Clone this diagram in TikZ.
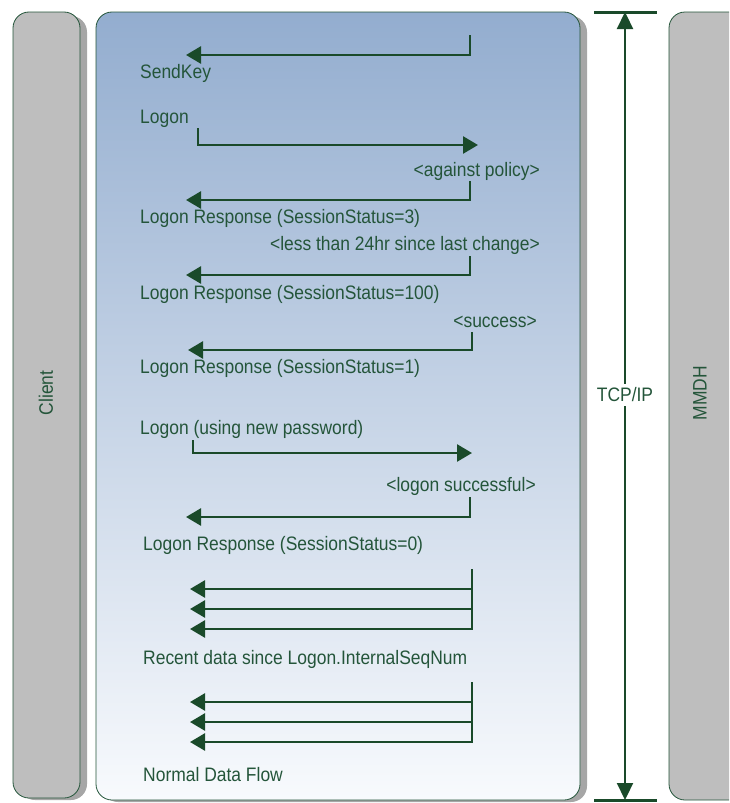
\documentclass[tikz,border=0pt]{standalone}
\usepackage{fontspec}
\setmainfont[FakeStretch=0.895]{Liberation Sans}
\usetikzlibrary{arrows.meta}
\definecolor{dgreen}{HTML}{1A4A2A}
\definecolor{tgreen}{HTML}{24553A}
\definecolor{bargray}{HTML}{BEBEBE}
\definecolor{shadowgray}{HTML}{A6A6A6}
\definecolor{btop}{HTML}{93ADCF}
\definecolor{bbot}{HTML}{F8FAFD}
\tikzset{
  msg/.style={line width=2.6pt, draw=dgreen, -{Triangle[length=15pt,width=17pt]}},
  lbl/.style={font=\fontsize{19.5}{22}\selectfont, text=tgreen, inner sep=0pt},
  bar/.style={fill=bargray, draw=tgreen, line width=0.8pt, rounded corners=16pt},
  shad/.style={fill=shadowgray, rounded corners=16pt},
  tcp/.style={line width=2.2pt, draw=dgreen},
}
\begin{document}
\begin{tikzpicture}[x=1pt,y=-1pt]
\useasboundingbox (0,0) rectangle (729,803);
\clip (0,0) rectangle (729,803);
% client bar
\fill[shad] (19,16) rectangle (87,800);
\draw[bar] (13,12) rectangle (80,798);
\node[lbl, rotate=90] (client) at (46,393) {Client};
% main box
\fill[shad] (102,16) rectangle (587,802);
\shade[top color=btop, bottom color=bbot, rounded corners=16pt] (96,12) rectangle (580,800);
\draw[draw=tgreen, line width=0.8pt, rounded corners=16pt] (96,12) rectangle (580,800);
% MMDH bar
\draw[bar] (669,12) rectangle (745,800);
\node[lbl, rotate=90] (mmdh) at (700,393) {MMDH};
% TCP/IP
\coordinate (ttl) at (594,12); \coordinate (ttr) at (657,12);
\coordinate (tbl) at (594,800); \coordinate (tbr) at (657,800);
\coordinate (tt) at (625,12); \coordinate (tb) at (625,800);
\draw[tcp, line width=3pt] (ttl) -- (ttr);
\draw[tcp, line width=3pt] (tbl) -- (tbr);
\node[lbl, fill=white, inner sep=4pt] (tcpip) at (625,395) {TCP/IP};
\draw[tcp, -{Triangle[length=17pt,width=16pt]}] (tcpip.north) -- (tt);
\draw[tcp, -{Triangle[length=17pt,width=16pt]}] (tcpip.south) -- (tb);
% 1 SendKey
\coordinate (a1s) at (470,35); \coordinate (a1c) at (470,55); \coordinate (a1e) at (186,55);
\draw[msg] (a1s) -- (a1c) -- (a1e);
\node[lbl, anchor=west] (t1) at (140,73) {SendKey};
% 2 Logon
\node[lbl, anchor=west] (t2) at (140,119) {Logon};
\coordinate (a2s) at (198,128); \coordinate (a2c) at (198,145); \coordinate (a2e) at (478,145);
\draw[msg] (a2s) -- (a2c) -- (a2e);
% 3
\node[lbl, anchor=east] (t3) at (540,171) {<against policy>};
\coordinate (a3s) at (470,181); \coordinate (a3c) at (470,200); \coordinate (a3e) at (186,200);
\draw[msg] (a3s) -- (a3c) -- (a3e);
\node[lbl, anchor=west] (t4) at (140,218) {Logon Response (SessionStatus=3)};
% 5
\node[lbl, anchor=east] (t5) at (540,245) {<less than 24hr since last change>};
\coordinate (a5s) at (470,256); \coordinate (a5c) at (470,275); \coordinate (a5e) at (186,275);
\draw[msg] (a5s) -- (a5c) -- (a5e);
\node[lbl, anchor=west] (t6) at (140,294) {Logon Response (SessionStatus=100)};
% 7
\node[lbl, anchor=east] (t7) at (537,322) {<success>};
\coordinate (a7s) at (472,332); \coordinate (a7c) at (472,350); \coordinate (a7e) at (188,350);
\draw[msg] (a7s) -- (a7c) -- (a7e);
\node[lbl, anchor=west] (t8) at (140,368) {Logon Response (SessionStatus=1)};
% 9
\node[lbl, anchor=west] (t9) at (140,429) {Logon (using new password)};
\coordinate (a9s) at (193,440); \coordinate (a9c) at (193,453); \coordinate (a9e) at (472,453);
\draw[msg] (a9s) -- (a9c) -- (a9e);
% 10
\node[lbl, anchor=east] (t10) at (536,486) {<logon successful>};
\coordinate (a10s) at (470,497); \coordinate (a10c) at (470,517); \coordinate (a10e) at (186,517);
\draw[msg] (a10s) -- (a10c) -- (a10e);
\node[lbl, anchor=west] (t11) at (143,545) {Logon Response (SessionStatus=0)};
% 12 recent data
\coordinate (r0) at (472,569);
\coordinate (r1) at (472,589); \coordinate (r2) at (472,609); \coordinate (r3) at (472,629);
\coordinate (r1e) at (190,589); \coordinate (r2e) at (190,609); \coordinate (r3e) at (190,629);
\draw[msg] (r0) -- (r3) -- (r3e);
\draw[msg] (r1) -- (r1e);
\draw[msg] (r2) -- (r2e);
\node[lbl, anchor=west] (t12) at (143,659) {Recent data since Logon.InternalSeqNum};
% 13 normal data
\coordinate (n0) at (472,682);
\coordinate (n1) at (472,702); \coordinate (n2) at (472,722); \coordinate (n3) at (472,742);
\coordinate (n1e) at (190,702); \coordinate (n2e) at (190,722); \coordinate (n3e) at (190,742);
\draw[msg] (n0) -- (n3) -- (n3e);
\draw[msg] (n1) -- (n1e);
\draw[msg] (n2) -- (n2e);
\node[lbl, anchor=west] (t13) at (143,775) {Normal Data Flow};
\end{tikzpicture}
\end{document}
